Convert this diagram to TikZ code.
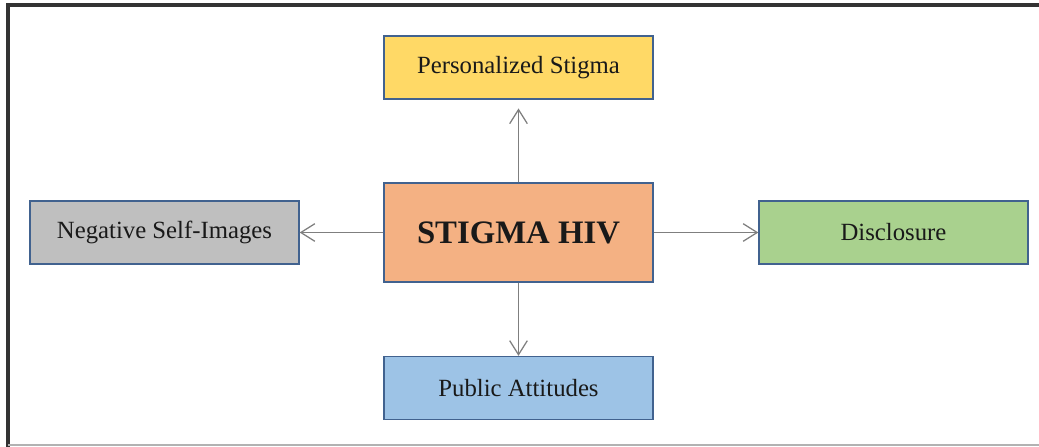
\documentclass[tikz,border=0pt]{standalone}
\usepackage{fontspec}
\setmainfont{Liberation Serif}
\usepackage{tikz}
\usetikzlibrary{arrows.meta}
\definecolor{boxline}{HTML}{41628F}
\definecolor{arrline}{HTML}{7F7F7F}
\definecolor{yellowfill}{HTML}{FFD966}
\definecolor{orangefill}{HTML}{F4B183}
\definecolor{greyfill}{HTML}{BFBFBF}
\definecolor{greenfill}{HTML}{A9D18E}
\definecolor{bluefill}{HTML}{9DC3E6}
\tikzstyle{every node}=[rectangle, draw=boxline, line width=0.9pt, text=black!90, inner sep=0pt, minimum width=6.725cm, minimum height=1.575cm, font=\fontsize{17.6pt}{20pt}\selectfont]
\tikzset{arr/.style={draw=arrline, line width=0.9pt, -{Straight Barb[length=0.35cm, width=0.44cm, line width=0.9pt]}}}

\begin{document}
\begin{tikzpicture}[x=0.025cm, y=-0.025cm]
		\useasboundingbox (0,0) rectangle (1039,447);
		\draw[black!80, line width=2.4pt] (8,447) -- (8,5) -- (1039,5);
		\draw[black!30, line width=1pt] (8,445) -- (1039,445);
		\node[fill=orangefill, minimum height=2.475cm, font=\fontsize{23.3pt}{26pt}\selectfont\bfseries] (stig) at (518.5,232.5) {STIGMA HIV};
		\node[fill=yellowfill] (pers) at (518.5,67.5) {Personalized Stigma};
		\node[fill=greyfill] (neg) at (164.5,232.5) {Negative Self-Images};
		\node[fill=greenfill] (disc) at (893.5,232.5) {Disclosure};
		\node[fill=bluefill] (pub) at (518.5,388) {Public Attitudes};
		\draw[arr, shorten >=0.22cm] (stig.north) -- (pers.south);
		\draw[arr] (stig.south) -- (pub.north);
		\draw[arr] (stig.west) -- (neg.east);
		\draw[arr] (stig.east) -- (disc.west);
		\end{tikzpicture}
\end{document}
